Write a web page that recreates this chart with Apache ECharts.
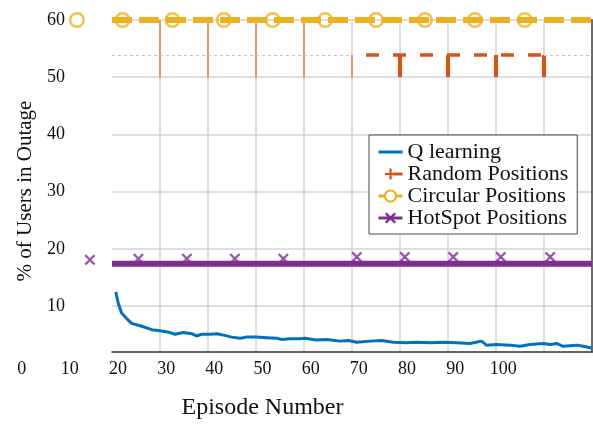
<!DOCTYPE html>
<html>
<head>
<meta charset="utf-8">
<script src="https://cdn.jsdelivr.net/npm/echarts@6/dist/echarts.min.js"></script>
<style>
  html, body { margin: 0; padding: 0; background: #fff; }
  #chart { width: 593px; height: 425px; }
</style>
</head>
<body>
<div id="chart"></div>
<script>
// Q-learning: % of users in outage per episode
const qEpisodes = [20.8, 21.3, 22, 23.1, 24.1, 26.2, 28.3, 30, 32.1, 33.1, 34.9, 36.6, 37.6, 38.7, 40.4,
  41.8, 43.5, 44.9, 46.7, 48, 50.1, 52.2, 54.3, 55.3, 57.1, 59.2, 60.2, 62.6, 64.7, 67.5, 69.2, 71,
  73.8, 76.2, 78.6, 81.4, 83.5, 86.3, 89, 91.8, 94.6, 97, 98, 100.1, 102.9, 105, 107.1, 109.9,
  111.3, 112.6, 114, 116.8, 118.2, 119.9];
const qOutage = [12.5, 10.5, 8.8, 7.8, 7.0, 6.5, 5.9, 5.7, 5.4, 5.1, 5.4, 5.2, 4.8, 5.1, 5.1,
  5.2, 4.9, 4.6, 4.4, 4.6, 4.6, 4.5, 4.4, 4.2, 4.3, 4.3, 4.4, 4.1, 4.2, 3.9, 4.0, 3.7,
  3.9, 4.0, 3.7, 3.6, 3.7, 3.6, 3.7, 3.6, 3.5, 3.9, 3.2, 3.3, 3.2, 3.0, 3.3, 3.5,
  3.3, 3.5, 3.0, 3.2, 3.0, 2.7];

// Random positions
const randEarlyX = [30, 40, 50, 60];
const randEarlyTop = 60;
const randFloor = 50;
const randLateStart = 70;
const randLateEnd = 110;
const randLateLevel = 53.9;
const randDropX = [80, 90, 100, 110];

// Circular positions
const circLevel = 60;
const circEpisodes = [12.7, 22.2, 32.6, 43.3, 53.5, 64.4, 75.0, 85.2, 95.6, 106.0];

// HotSpot positions
const hotLevel = 17.4;
const hotEpisodes = [15.4, 25.5, 35.6, 45.6, 55.7, 71.0, 81.0, 91.1, 101.0, 111.3];
const hotMarks = [18.1, 18.3, 18.3, 18.3, 18.3, 18.6, 18.6, 18.6, 18.6, 18.6];

// Axes
const xRange = [20, 120];
const xLabelRange = [0, 100];
const yRange = [2, 60];
const yTicks = [10, 20, 30, 40, 50, 60];

const BLUE = '#0072BD', ORANGE = '#D95319', GOLD = '#EDB120', PURPLE = '#7E2F8E';
const FONT = 'Liberation Serif';
const PLUS = 'path://M4,0 L6,0 L6,4 L10,4 L10,6 L6,6 L6,10 L4,10 L4,6 L0,6 L0,4 L4,4 Z';
const CROSS = 'path://M0,1.5 L1.5,0 L5,3.5 L8.5,0 L10,1.5 L6.5,5 L10,8.5 L8.5,10 L5,6.5 L1.5,10 L0,8.5 L3.5,5 Z';

// vertical segments broken apart by empty points
function verticals(xs, top, bottom) {
  const out = [];
  xs.forEach(x => { out.push([x, top], [x, bottom], [x, null]); });
  return out;
}

const qData = qEpisodes.map((x, i) => [x, qOutage[i]]);
const randThin = verticals(randEarlyX, randEarlyTop, randFloor)
  .concat(verticals([randLateStart], randLateLevel, randFloor));
const randDrops = verticals(randDropX, randLateLevel, randFloor);

const chart = echarts.init(document.getElementById('chart'), null, { renderer: 'canvas' });
chart.setOption({
  animation: false,
  backgroundColor: '#fff',
  grid: [
    { left: 112, right: 1, top: 20, bottom: 73 },
    { left: 21.7, right: 89.7, top: 20, bottom: 73 }
  ],
  legend: {
    data: [
      { name: 'Q learning', itemStyle: { opacity: 0 } },
      'Random Positions', 'Circular Positions', 'HotSpot Positions'
    ],
    orient: 'vertical',
    left: 369, top: 135,
    padding: [6, 9, 5, 8],
    itemWidth: 24, itemHeight: 14, itemGap: 0,
    backgroundColor: '#fff',
    borderColor: '#444', borderWidth: 1,
    lineStyle: { width: 3 },
    textStyle: { fontFamily: FONT, fontSize: 22, color: '#111', lineHeight: 21 }
  },
  xAxis: [
    {
      type: 'value', gridIndex: 0, min: xRange[0], max: xRange[1], interval: 10,
      axisLine: { onZero: false, lineStyle: { color: '#333', width: 1.5 } },
      axisTick: { show: false },
      axisLabel: { show: false },
      splitLine: { show: true, showMinLine: false, lineStyle: { color: '#d4d4d4', width: 1.5 } }
    },
    {
      type: 'value', gridIndex: 1, min: xLabelRange[0], max: xLabelRange[1], interval: 10,
      axisLine: { show: false }, axisTick: { show: false }, splitLine: { show: false },
      axisLabel: { margin: 13, fontFamily: FONT, fontSize: 18, color: '#111' },
      name: 'Episode Number', nameLocation: 'middle', nameGap: 49,
      nameTextStyle: { fontFamily: FONT, fontSize: 24, color: '#111' }
    }
  ],
  yAxis: [
    {
      type: 'value', gridIndex: 0, min: yRange[0], max: yRange[1],
      axisLine: { show: false },
      axisTick: { show: false, customValues: yTicks },
      axisLabel: { customValues: yTicks, margin: 47, fontFamily: FONT, fontSize: 18, color: '#111' },
      splitLine: { show: true, lineStyle: { color: '#d4d4d4', width: 1.5 } },
      name: '% of Users in Outage', nameLocation: 'middle', nameGap: 74,
      nameTextStyle: { fontFamily: FONT, fontSize: 21, color: '#111', padding: [0, 10, 0, 0] }
    },
    {
      type: 'value', gridIndex: 0, position: 'right', min: yRange[0], max: yRange[1],
      axisLine: { show: true, lineStyle: { color: '#6b6b6b', width: 2 } },
      axisTick: { show: false }, axisLabel: { show: false }, splitLine: { show: false }
    },
    { type: 'value', gridIndex: 1, show: false, min: yRange[0], max: yRange[1] }
  ],
  series: [
    {
      name: 'Q learning', type: 'line', data: qData,
      symbol: 'none', lineStyle: { color: BLUE, width: 3 }, itemStyle: { color: BLUE }, z: 5
    },
    {
      name: 'Random Positions', type: 'line',
      data: [[randLateStart, randLateLevel], [randLateEnd, randLateLevel]],
      symbol: PLUS, showSymbol: false,
      lineStyle: { color: ORANGE, width: 3.5, type: [13, 14], dashOffset: 13 },
      itemStyle: { color: ORANGE }, z: 3
    },
    {
      name: 'Random Positions', type: 'line', data: randDrops, connectNulls: false,
      symbol: 'none', lineStyle: { color: ORANGE, width: 4 }, itemStyle: { color: ORANGE }, z: 3
    },
    {
      name: 'Random Positions', type: 'line', data: randThin, connectNulls: false,
      symbol: 'none', lineStyle: { color: '#E57A52', width: 1.5 }, itemStyle: { color: ORANGE }, z: 2,
      markLine: {
        silent: true, symbol: 'none', label: { show: false },
        lineStyle: { color: '#c4c4c4', type: [3, 3], width: 1 },
        data: [
          [{ coord: [xRange[0], randLateLevel] }, { coord: [randLateStart, randLateLevel] }],
          [{ coord: [randLateEnd, randLateLevel] }, { coord: [xRange[1], randLateLevel] }]
        ]
      }
    },
    {
      name: 'Circular Positions', type: 'line',
      data: [[xRange[0], circLevel], [xRange[1], circLevel]],
      symbol: 'emptyCircle', showSymbol: false,
      lineStyle: { color: GOLD, width: 6, type: [20, 7] }, itemStyle: { color: GOLD }, z: 6
    },
    {
      name: 'Circular Positions', type: 'scatter', clip: false,
      data: circEpisodes.map(x => [x, circLevel]),
      symbol: 'circle', symbolSize: 13.5,
      itemStyle: { color: 'rgba(0,0,0,0)', borderColor: GOLD, borderWidth: 2.5 }, z: 7
    },
    {
      name: 'HotSpot Positions', type: 'line',
      data: [[xRange[0], hotLevel], [xRange[1], hotLevel]],
      symbol: CROSS, showSymbol: false,
      lineStyle: { color: PURPLE, width: 6 }, itemStyle: { color: PURPLE }, z: 6
    },
    {
      name: 'HotSpot Positions', type: 'scatter', clip: false,
      data: hotEpisodes.map((x, i) => [x, hotMarks[i]]),
      symbol: CROSS, symbolSize: 11,
      itemStyle: { color: PURPLE }, z: 4
    }
  ]
});
</script>
</body>
</html>
